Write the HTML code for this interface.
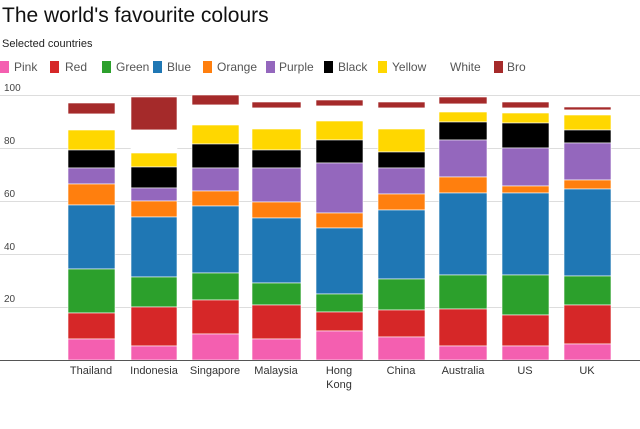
<!DOCTYPE html>
<html><head><style>
body{margin:0;background:#fff;width:640px;height:424px;overflow:hidden;font-family:"Liberation Sans",sans-serif}
.br{fill:#a52a2a}.wh{fill:#fff}.ye{fill:#ffd700}.bk{fill:#000}.pu{fill:#9467bd}.or{fill:#ff7f0e}.bl{fill:#1f77b4}.gr{fill:#2ca02c}.rd{fill:#d62728}.pk{fill:#f45fb0}
.b rect{stroke:#fff;stroke-width:0.6}
</style></head><body>
<svg width="640" height="424" xmlns="http://www.w3.org/2000/svg" font-family="Liberation Sans, sans-serif">
<text x="2" y="22" font-size="21" fill="#111">The world's favourite colours</text>
<text x="2" y="47" font-size="11" fill="#222">Selected countries</text>
<g font-size="12" fill="#555">
<rect x="0" y="61" width="9" height="12" fill="#f45fb0"/><text x="14" y="71">Pink</text>
<rect x="50" y="61" width="9" height="12" fill="#d62728"/><text x="65" y="71">Red</text>
<rect x="102" y="61" width="9" height="12" fill="#2ca02c"/><text x="116" y="71">Green</text>
<rect x="153" y="61" width="9" height="12" fill="#1f77b4"/><text x="167" y="71">Blue</text>
<rect x="203" y="61" width="9" height="12" fill="#ff7f0e"/><text x="217" y="71">Orange</text>
<rect x="266" y="61" width="9" height="12" fill="#9467bd"/><text x="279" y="71">Purple</text>
<rect x="324" y="61" width="9" height="12" fill="#000"/><text x="338" y="71">Black</text>
<rect x="378" y="61" width="9" height="12" fill="#ffd700"/><text x="392" y="71">Yellow</text>
<text x="450" y="71">White</text>
<rect x="494" y="61" width="9" height="12" fill="#a52a2a"/><text x="507" y="71">Bro</text>
</g>
<g stroke="#ddd" stroke-width="1">
<line x1="0" y1="95.5" x2="640" y2="95.5"/><line x1="0" y1="148.5" x2="640" y2="148.5"/>
<line x1="0" y1="201.5" x2="640" y2="201.5"/><line x1="0" y1="254.5" x2="640" y2="254.5"/>
<line x1="0" y1="307.5" x2="640" y2="307.5"/>
</g>
<g font-size="10" fill="#444">
<text x="4" y="91">100</text><text x="4" y="144">80</text><text x="4" y="197">60</text><text x="4" y="250">40</text><text x="4" y="302">20</text>
</g>
<g class="b">
<g transform="translate(68,0)">
<rect class="br" y="103" width="47" height="11"/><rect class="wh" y="114" width="47" height="16"/><rect class="ye" y="130" width="47" height="20"/><rect class="bk" y="150" width="47" height="18"/><rect class="pu" y="168" width="47" height="16"/><rect class="or" y="184" width="47" height="21"/><rect class="bl" y="205" width="47" height="64"/><rect class="gr" y="269" width="47" height="44"/><rect class="rd" y="313" width="47" height="26"/><rect class="pk" y="339" width="47" height="21"/></g>
<g transform="translate(131,0)">
<rect class="br" y="97" width="46" height="33"/><rect class="wh" y="130" width="46" height="23"/><rect class="ye" y="153" width="46" height="14"/><rect class="bk" y="167" width="46" height="21"/><rect class="pu" y="188" width="46" height="13"/><rect class="or" y="201" width="46" height="16"/><rect class="bl" y="217" width="46" height="60"/><rect class="gr" y="277" width="46" height="30"/><rect class="rd" y="307" width="46" height="39"/><rect class="pk" y="346" width="46" height="14"/></g>
<g transform="translate(192,0)">
<rect class="br" y="95" width="47" height="10"/><rect class="wh" y="105" width="47" height="20"/><rect class="ye" y="125" width="47" height="19"/><rect class="bk" y="144" width="47" height="24"/><rect class="pu" y="168" width="47" height="23"/><rect class="or" y="191" width="47" height="15"/><rect class="bl" y="206" width="47" height="67"/><rect class="gr" y="273" width="47" height="27"/><rect class="rd" y="300" width="47" height="34"/><rect class="pk" y="334" width="47" height="26"/></g>
<g transform="translate(252,0)">
<rect class="br" y="102" width="49" height="6"/><rect class="wh" y="108" width="49" height="21"/><rect class="ye" y="129" width="49" height="21"/><rect class="bk" y="150" width="49" height="18"/><rect class="pu" y="168" width="49" height="34"/><rect class="or" y="202" width="49" height="16"/><rect class="bl" y="218" width="49" height="65"/><rect class="gr" y="283" width="49" height="22"/><rect class="rd" y="305" width="49" height="34"/><rect class="pk" y="339" width="49" height="21"/></g>
<g transform="translate(316,0)">
<rect class="br" y="100" width="47" height="6"/><rect class="wh" y="106" width="47" height="15"/><rect class="ye" y="121" width="47" height="19"/><rect class="bk" y="140" width="47" height="23"/><rect class="pu" y="163" width="47" height="50"/><rect class="or" y="213" width="47" height="15"/><rect class="bl" y="228" width="47" height="66"/><rect class="gr" y="294" width="47" height="18"/><rect class="rd" y="312" width="47" height="19"/><rect class="pk" y="331" width="47" height="29"/></g>
<g transform="translate(378,0)">
<rect class="br" y="102" width="47" height="6"/><rect class="wh" y="108" width="47" height="21"/><rect class="ye" y="129" width="47" height="23"/><rect class="bk" y="152" width="47" height="16"/><rect class="pu" y="168" width="47" height="26"/><rect class="or" y="194" width="47" height="16"/><rect class="bl" y="210" width="47" height="69"/><rect class="gr" y="279" width="47" height="31"/><rect class="rd" y="310" width="47" height="27"/><rect class="pk" y="337" width="47" height="23"/></g>
<g transform="translate(439,0)">
<rect class="br" y="97" width="48" height="7"/><rect class="wh" y="104" width="48" height="8"/><rect class="ye" y="112" width="48" height="10"/><rect class="bk" y="122" width="48" height="18"/><rect class="pu" y="140" width="48" height="37"/><rect class="or" y="177" width="48" height="16"/><rect class="bl" y="193" width="48" height="82"/><rect class="gr" y="275" width="48" height="34"/><rect class="rd" y="309" width="48" height="37"/><rect class="pk" y="346" width="48" height="14"/></g>
<g transform="translate(502,0)">
<rect class="br" y="102" width="47" height="6"/><rect class="wh" y="108" width="47" height="5"/><rect class="ye" y="113" width="47" height="10"/><rect class="bk" y="123" width="47" height="25"/><rect class="pu" y="148" width="47" height="38"/><rect class="or" y="186" width="47" height="7"/><rect class="bl" y="193" width="47" height="82"/><rect class="gr" y="275" width="47" height="40"/><rect class="rd" y="315" width="47" height="31"/><rect class="pk" y="346" width="47" height="14"/></g>
<g transform="translate(564,0)">
<rect class="br" y="107" width="47" height="3"/><rect class="wh" y="110" width="47" height="5"/><rect class="ye" y="115" width="47" height="15"/><rect class="bk" y="130" width="47" height="13"/><rect class="pu" y="143" width="47" height="37"/><rect class="or" y="180" width="47" height="9"/><rect class="bl" y="189" width="47" height="87"/><rect class="gr" y="276" width="47" height="29"/><rect class="rd" y="305" width="47" height="39"/><rect class="pk" y="344" width="47" height="16"/></g>
</g>
<line x1="0" y1="360.5" x2="640" y2="360.5" stroke="#555" stroke-width="1"/>
<g font-size="11" fill="#333" text-anchor="middle">
<text x="91" y="374">Thailand</text><text x="154" y="374">Indonesia</text><text x="215" y="374">Singapore</text>
<text x="276" y="374">Malaysia</text><text x="339" y="374">Hong</text><text x="339" y="388">Kong</text>
<text x="401" y="374">China</text><text x="463" y="374">Australia</text><text x="525" y="374">US</text><text x="587" y="374">UK</text>
</g>
</svg>
</body></html>
